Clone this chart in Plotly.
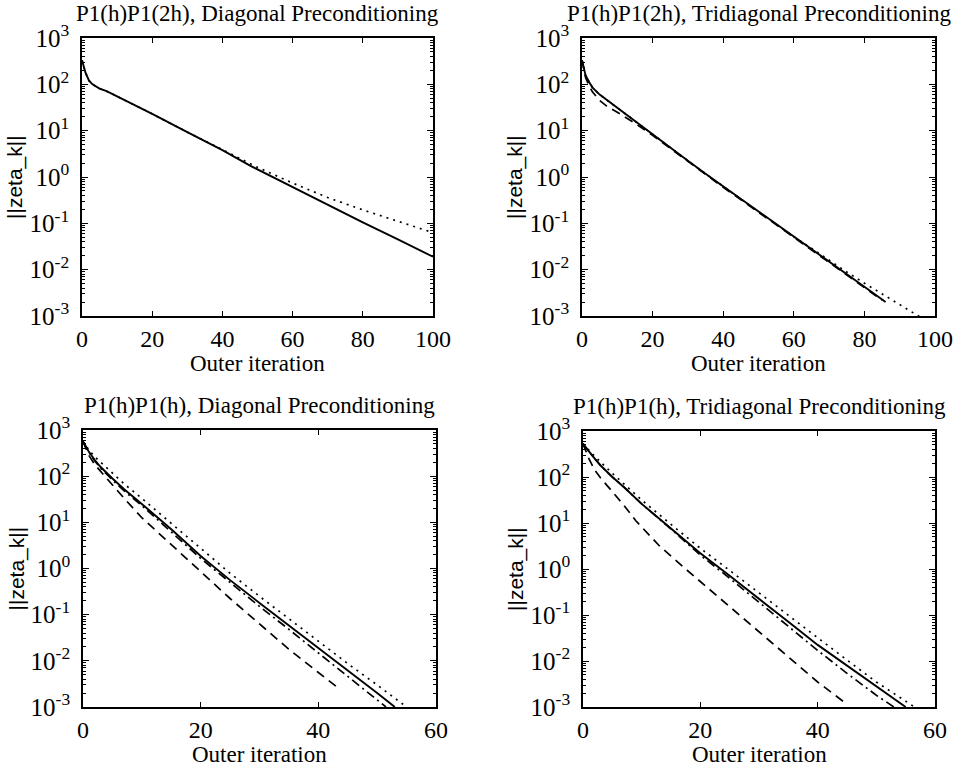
import plotly.graph_objects as go

W, H = 957, 766

# ---------------- data ----------------
# Top-left: P1(h)P1(2h), Diagonal Preconditioning
tl_solid_x = [0, 1, 2, 3, 5, 7, 10, 15, 20, 30, 40, 48, 60, 70, 80, 90, 100]
tl_solid_y = [331, 178, 120, 100, 81, 71, 55, 36, 23, 9.3, 3.8, 1.74, 0.60, 0.25, 0.105, 0.045, 0.019]
tl_dot_x = [0, 1, 2, 3, 5, 7, 10, 15, 20, 30, 35, 40, 50, 60, 70, 80, 90, 100]
tl_dot_y = [331, 178, 120, 100, 81, 71, 55, 36, 23, 9.3, 6.0, 4.0, 1.62, 0.74, 0.36, 0.195, 0.11, 0.063]

# Top-right: P1(h)P1(2h), Tridiagonal Preconditioning
tr_solid_x = [0, 1, 2, 3, 5, 7, 10, 15, 20, 25, 30, 35, 40, 50, 60, 70, 80, 86]
tr_solid_y = [331, 158, 112, 85, 60, 46, 32, 15.8, 8.3, 4.3, 2.24, 1.17, 0.63, 0.18, 0.051, 0.0148, 0.0043, 0.0020]
tr_dot_x = [0, 1, 2, 3, 5, 7, 10, 15, 20, 25, 30, 35, 40, 50, 60, 65, 70, 75, 80, 85, 90, 96]
tr_dot_y = [331, 158, 112, 85, 60, 46, 32, 15.8, 8.3, 4.3, 2.24, 1.17, 0.63, 0.18, 0.051, 0.029, 0.0158,
            0.0089, 0.0051, 0.0030, 0.0017, 0.00093]
tr_dash_x = [0, 1, 2, 3, 5, 7, 10, 15, 20, 30, 40, 50, 60, 70, 80, 85]
tr_dash_y = [331, 141, 93, 68, 45, 34, 25, 14.5, 7.9, 2.14, 0.60, 0.174, 0.050, 0.0145, 0.0042, 0.0022]

# Bottom-left: P1(h)P1(h), Diagonal Preconditioning
bl_solid_x = [0, 1, 2, 3, 5, 7, 10, 15, 20, 25, 30, 35, 40, 45, 50, 53]
bl_solid_y = [562, 339, 224, 158, 89, 52, 25, 7.1, 1.86, 0.56, 0.18, 0.059, 0.019, 0.0062, 0.0020, 0.0010]
bl_dot_x = [0, 1, 2, 3, 5, 7, 10, 15, 20, 25, 30, 35, 40, 45, 50, 55]
bl_dot_y = [562, 372, 263, 200, 112, 68, 33, 9.5, 2.63, 0.79, 0.25, 0.081, 0.026, 0.0087, 0.0030, 0.0010]
bl_dashdot_x = [0, 1, 2, 3, 5, 7, 10, 15, 20, 25, 30, 35, 40, 45, 51.5]
bl_dashdot_y = [562, 331, 214, 148, 83, 48, 23, 6.3, 1.66, 0.50, 0.151, 0.048, 0.0148, 0.0047, 0.0010]
bl_dash_x = [0, 1, 2, 3, 5, 7, 10, 15, 20, 25, 30, 35, 40, 43.7]
bl_dash_y = [562, 282, 178, 126, 63, 33, 12.6, 3.3, 0.83, 0.224, 0.063, 0.0178, 0.0056, 0.0024]

# Bottom-right: P1(h)P1(h), Tridiagonal Preconditioning
br_solid_x = [0, 1, 2, 3, 5, 7, 10, 15, 20, 25, 30, 35, 40, 45, 50, 55]
br_solid_y = [525, 355, 251, 178, 100, 60, 26, 7.6, 2.19, 0.71, 0.229, 0.071, 0.0224, 0.0079, 0.0028, 0.0010]
br_dot_x = [0, 2, 5, 10, 15, 20, 25, 30, 35, 40, 45, 50, 56.5]
br_dot_y = [525, 282, 120, 31.6, 9.3, 2.82, 0.93, 0.30, 0.095, 0.032, 0.0105, 0.0035, 0.0010]
br_dashdot_x = [0, 1, 2, 3, 5, 7, 10, 15, 20, 25, 30, 35, 40, 45, 50, 53]
br_dashdot_y = [525, 355, 251, 178, 100, 60, 26, 7.4, 2.0, 0.63, 0.19, 0.056, 0.017, 0.0054, 0.0018, 0.0010]
br_dash_x = [0, 1, 2, 3, 5, 7, 9, 13, 17.5, 22, 26.6, 31, 35.8, 40, 44.9]
br_dash_y = [525, 251, 141, 95, 48, 24, 11.2, 3.2, 1.0, 0.32, 0.1, 0.033, 0.01, 0.0035, 0.00117]

titles = ["P1(h)P1(2h), Diagonal Preconditioning",
          "P1(h)P1(2h), Tridiagonal Preconditioning",
          "P1(h)P1(h), Diagonal Preconditioning",
          "P1(h)P1(h), Tridiagonal Preconditioning"]
x_ranges = [[0, 100], [0, 100], [0, 60], [0, 60]]
x_tick_vals = [[0, 20, 40, 60, 80, 100], [0, 20, 40, 60, 80, 100], [0, 20, 40, 60], [0, 20, 40, 60]]
y_exponents = [-3, -2, -1, 0, 1, 2, 3]
x_label = "Outer iteration"
y_label = "||zeta_k||"

# ---------------- layout geometry (pixels) ----------------
# (left, right, top, bottom)
boxes = [(82, 433, 38, 316), (582, 935, 38, 316), (83, 436, 430, 707), (583, 935, 431, 707)]

SERIF = "Liberation Serif, Times New Roman, serif"
SANS = "Liberation Sans, Arial, sans-serif"
FS = 23

fig = go.Figure()

styles = {"solid": "solid", "dot": "2px,5px", "dash": "9px,6px", "dashdot": "9px,4px,2px,4px"}

panels = [
    [(tl_solid_x, tl_solid_y, "solid"), (tl_dot_x, tl_dot_y, "dot")],
    [(tr_dash_x, tr_dash_y, "dash"), (tr_dot_x, tr_dot_y, "dot"), (tr_solid_x, tr_solid_y, "solid")],
    [(bl_dash_x, bl_dash_y, "dash"), (bl_dashdot_x, bl_dashdot_y, "dashdot"),
     (bl_dot_x, bl_dot_y, "dot"), (bl_solid_x, bl_solid_y, "solid")],
    [(br_dash_x, br_dash_y, "dash"), (br_dashdot_x, br_dashdot_y, "dashdot"),
     (br_dot_x, br_dot_y, "dot"), (br_solid_x, br_solid_y, "solid")],
]

minor_vals = [m * 10 ** e for e in range(-3, 3) for m in range(2, 10)]

annotations = []
for i, (box, series) in enumerate(zip(boxes, panels)):
    n = "" if i == 0 else str(i + 1)
    xa, ya = "x" + n, "y" + n
    for sx, sy, st in series:
        fig.add_trace(go.Scatter(
            x=sx, y=sy, mode="lines", xaxis=xa, yaxis=ya, showlegend=False,
            line=dict(color="black", width=1.9 if st == "solid" else 1.7, dash=styles[st]),
        ))
    l, r, t, b = box
    dom_x = [l / W, r / W]
    dom_y = [1 - b / H, 1 - t / H]
    fig.layout["xaxis" + n] = dict(
        domain=dom_x, range=x_ranges[i], anchor=ya, automargin=False,
        tickmode="array", tickvals=x_tick_vals[i],
        ticks="inside", ticklen=5, tickwidth=1.2, tickcolor="black",
        ticklabelstandoff=0,
        showline=True, linecolor="black", linewidth=1.6, mirror="ticks",
        showgrid=False, zeroline=False,
        tickfont=dict(family=SERIF, size=24, color="black"),
    )
    fig.layout["yaxis" + n] = dict(
        domain=dom_y, type="log", range=[-3, 3], anchor=xa, automargin=False,
        tickmode="array", tickvals=[10 ** e for e in y_exponents],
        ticktext=["10<sup>%d</sup>" % e for e in y_exponents],
        ticks="inside", ticklen=6, tickwidth=1.2, tickcolor="black",
        ticklabelstandoff=6,
        minor=dict(tickmode="array", tickvals=minor_vals, ticks="inside", ticklen=3,
                   tickwidth=1, tickcolor="black", showgrid=False),
        showline=True, linecolor="black", linewidth=1.6, mirror="ticks",
        showgrid=False, zeroline=False,
        tickfont=dict(family=SERIF, size=25, color="black"),
    )
    cx = (l + r) / 2
    cy = (t + b) / 2
    annotations.append(dict(text=titles[i], x=cx / W, y=1 - (t - 25) / H, xref="paper", yref="paper",
                            showarrow=False, xanchor="center", yanchor="middle",
                            font=dict(family=SERIF, size=FS, color="black")))
    annotations.append(dict(text=x_label, x=cx / W, y=1 - (b + 47) / H, xref="paper", yref="paper",
                            showarrow=False, xanchor="center", yanchor="middle",
                            font=dict(family=SERIF, size=FS, color="black")))
    annotations.append(dict(text=y_label, x=(l - 67) / W, y=1 - cy / H, xref="paper", yref="paper",
                            showarrow=False, xanchor="center", yanchor="middle", textangle=-90,
                            font=dict(family=SANS, size=21, color="black")))

fig.update_layout(
    width=W, height=H, margin=dict(l=0, r=0, t=0, b=0, autoexpand=False),
    paper_bgcolor="white", plot_bgcolor="white",
    annotations=annotations,
)

fig.write_html("out.html", config={"displayModeBar": False},
               post_script="document.body.style.margin='0px';document.body.style.overflow='hidden';")
